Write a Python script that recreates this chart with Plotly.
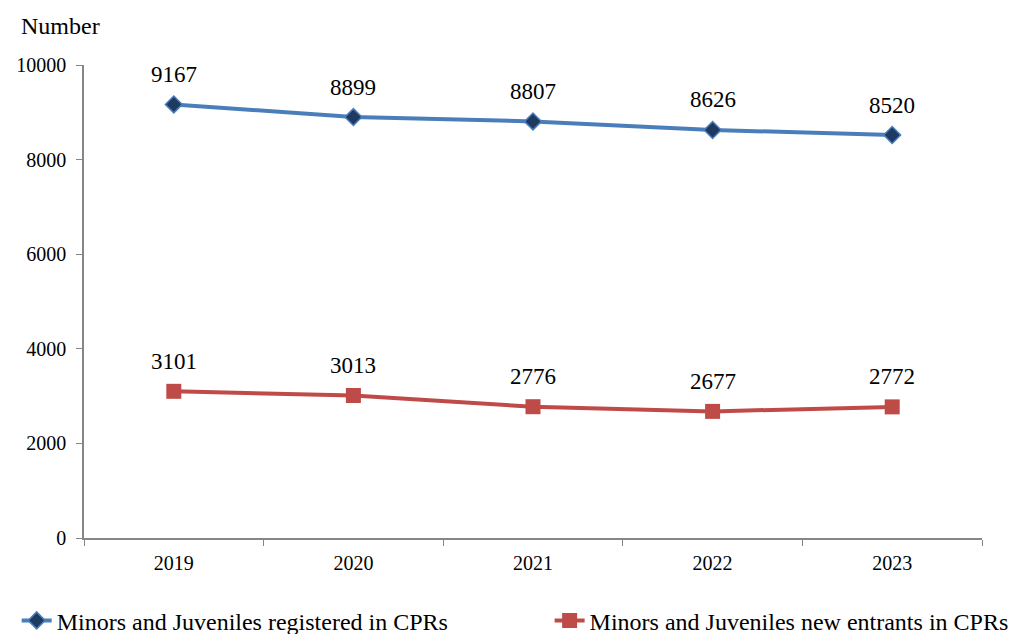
import plotly.graph_objects as go

years = ["2019", "2020", "2021", "2022", "2023"]
registered = [9167, 8899, 8807, 8626, 8520]
new_entrants = [3101, 3013, 2776, 2677, 2772]
name_registered = "Minors and Juveniles registered in CPRs"
name_new = "Minors and Juveniles new entrants in CPRs"

FONT = "Liberation Serif"

fig = go.Figure()
fig.add_trace(go.Scatter(
    x=years, y=registered, name=name_registered, legend="legend",
    mode="lines+markers",
    line=dict(color="#4A7EBB", width=4),
    marker=dict(symbol="diamond", size=13, color="#1F3A60", line=dict(color="#4A7EBB", width=1.5)),
))
fig.add_trace(go.Scatter(
    x=years, y=new_entrants, name=name_new, legend="legend2",
    mode="lines+markers",
    line=dict(color="#BE4B48", width=4),
    marker=dict(symbol="square", size=15, color="#BE4B48"),
))

annotations = []
for series in (registered, new_entrants):
    for i, v in enumerate(series):
        annotations.append(dict(x=i, y=v, xref="x", yref="y", text=str(v), showarrow=False,
                                yanchor="middle", yshift=30,
                                font=dict(size=23, family=FONT, color="black")))
annotations.append(dict(text="Number", xref="paper", yref="paper", x=-0.072, y=1.082,
                        xanchor="left", yanchor="middle", showarrow=False,
                        font=dict(size=24, family=FONT, color="black")))

legend_common = dict(orientation="h", yanchor="middle", y=-0.175, xanchor="left",
                     font=dict(size=24, family=FONT, color="black"),
                     bgcolor="rgba(0,0,0,0)", borderwidth=0)

fig.update_layout(
    width=1014, height=634,
    margin=dict(l=84, r=32, t=65, b=96, autoexpand=False),
    paper_bgcolor="white", plot_bgcolor="white",
    font=dict(family=FONT, color="black", size=20),
    showlegend=True,
    legend=dict(x=-0.075, **legend_common),
    legend2=dict(x=0.5185, **legend_common),
    annotations=annotations,
)
fig.update_xaxes(type="category", range=[-0.5, 4.5], tickson="boundaries",
                 ticks="outside", ticklen=6, tickcolor="#868686",
                 showline=True, linecolor="#868686", linewidth=1.5, mirror=False,
                 showgrid=False, tickfont=dict(size=20, family=FONT), ticklabelstandoff=6)
fig.update_yaxes(range=[0, 10000], dtick=2000, tickformat="d", ticks="outside", ticklen=6,
                 tickcolor="#868686", showline=True, linecolor="#868686", linewidth=1.5,
                 showgrid=False, zeroline=False, tickfont=dict(size=20, family=FONT),
                 ticklabelstandoff=6)

fig.write_html("out.html", config={"displayModeBar": False},
               post_script="document.body.style.margin='0';document.body.style.padding='0';")
